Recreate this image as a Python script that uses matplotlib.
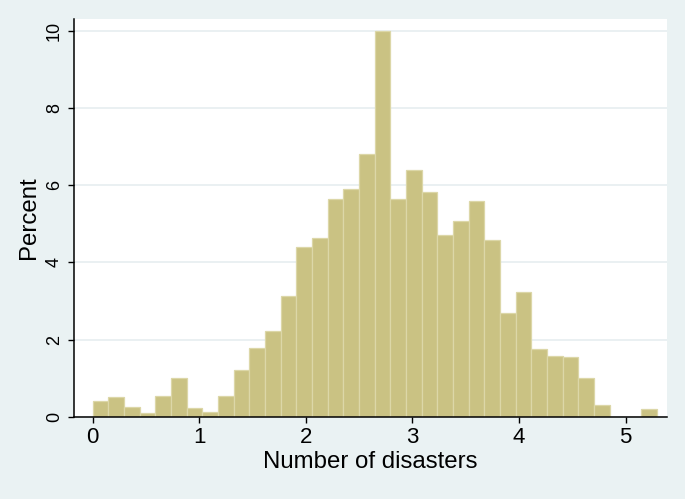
import numpy as np
import matplotlib.pyplot as plt

plt.rcParams['font.family'] = ['Liberation Sans', 'DejaVu Sans']

# histogram bins (percent of observations per bin)
bin_start = 0.0
bin_width = 0.147
percent = [0.41, 0.50, 0.24, 0.09, 0.53, 0.99, 0.22, 0.11, 0.53, 1.20,
           1.78, 2.23, 3.12, 4.39, 4.62, 5.65, 5.89, 6.80, 10.0, 5.64,
           6.39, 5.83, 4.70, 5.06, 5.59, 4.58, 2.68, 3.24, 1.75, 1.57,
           1.55, 1.01, 0.30, 0.0, 0.0, 0.21]
x_ticks = [0, 1, 2, 3, 4, 5]
y_ticks = [0, 2, 4, 6, 8, 10]

left_edges = bin_start + bin_width * np.arange(len(percent))

bg = '#EAF2F3'
fig = plt.figure(figsize=(6.85, 4.99), dpi=100, facecolor=bg)
ax = fig.add_axes([0.1085, 0.165, 0.865, 0.797])
ax.set_facecolor('white')

for y in y_ticks:
    ax.axhline(y, color='#E6EEF0', lw=1.2, zorder=0)

ax.bar(left_edges, percent, width=bin_width, align='edge',
       color='#CAC283', edgecolor='#DCD7A8', linewidth=0.9, zorder=2)

ax.set_xlim(-0.173, 5.388)
ax.set_ylim(0, 10.31)
ax.set_xticks(x_ticks)
ax.set_yticks(y_ticks)
ax.set_yticklabels([str(v) for v in y_ticks], rotation=90, va='center')
ax.tick_params(length=4.5, width=1, direction='out', colors='black')
ax.tick_params(axis='y', labelsize=13, pad=3.6)
ax.tick_params(axis='x', labelsize=16, pad=3)

for s in ['top', 'right']:
    ax.spines[s].set_visible(False)
for s in ['left', 'bottom']:
    ax.spines[s].set_linewidth(1.1)

ax.set_xlabel('Number of disasters', fontsize=17.3, va='center')
ax.set_ylabel('Percent', fontsize=17.3, va='center')
ax.xaxis.set_label_coords(0.5, -0.115)
ax.yaxis.set_label_coords(-0.076, 0.5)

plt.savefig('out.png', dpi=100, facecolor=bg)
